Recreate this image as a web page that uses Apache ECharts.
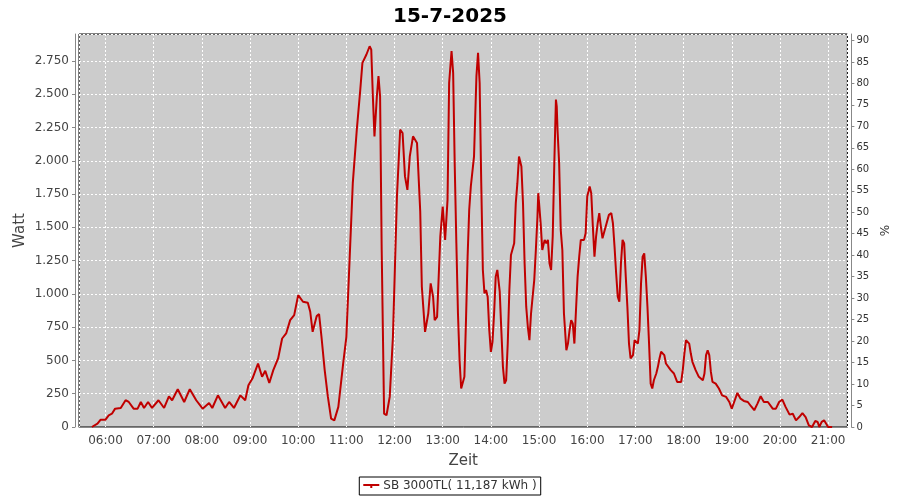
<!DOCTYPE html>
<html>
<head>
<meta charset="utf-8">
<script src="https://cdn.jsdelivr.net/npm/echarts@6/dist/echarts.min.js"></script>
<style>html,body{margin:0;padding:0;background:#fff}#c{width:900px;height:500px}</style>
</head>
<body>
<div id="c"></div>
<script>
var day = '2025-07-15';
var times = ['05:43','05:50','05:54','06:00','06:04','06:08','06:12','06:19','06:25','06:29','06:35','06:40','06:44','06:48','06:53','06:58','07:06','07:13','07:19','07:23','07:30','07:38','07:45','07:53','08:01','08:09','08:13','08:20','08:29','08:34','08:40','08:48','08:54','08:58','09:03','09:10','09:15','09:19','09:24','09:29','09:35','09:40','09:45','09:50','09:55','10:00','10:06','10:12','10:15','10:18','10:23','10:26','10:29','10:33','10:37','10:41','10:45','10:50','10:56','11:00','11:04','11:08','11:13','11:17','11:20','11:25','11:29','11:31','11:33','11:35','11:38','11:40','11:42','11:44','11:47','11:50','11:54','11:58','12:03','12:07','12:10','12:13','12:16','12:19','12:23','12:28','12:32','12:34','12:38','12:42','12:45','12:48','12:50','12:53','12:57','13:00','13:03','13:06','13:08','13:11','13:13','13:15','13:17','13:19','13:21','13:23','13:25','13:27','13:29','13:31','13:33','13:35','13:37','13:39','13:42','13:44','13:46','13:48','13:50','13:52','13:54','13:56','13:58','14:00','14:02','14:04','14:06','14:08','14:11','14:13','14:15','14:17','14:19','14:21','14:23','14:25','14:27','14:29','14:31','14:33','14:35','14:38','14:40','14:42','14:44','14:46','14:48','14:50','14:52','14:54','14:56','14:58','14:59','15:00','15:02','15:04','15:07','15:09','15:11','15:13','15:15','15:17','15:19','15:21','15:22','15:23','15:25','15:27','15:29','15:31','15:34','15:36','15:38','15:40','15:42','15:44','15:46','15:48','15:50','15:52','15:56','15:58','16:00','16:03','16:05','16:07','16:09','16:11','16:13','16:15','16:17','16:19','16:23','16:27','16:30','16:32','16:34','16:36','16:38','16:40','16:42','16:44','16:46','16:48','16:50','16:52','16:54','16:57','16:59','17:03','17:05','17:07','17:09','17:11','17:13','17:15','17:17','17:19','17:21','17:23','17:26','17:28','17:30','17:32','17:36','17:38','17:44','17:48','17:52','17:57','17:59','18:01','18:03','18:05','18:07','18:09','18:11','18:15','18:19','18:24','18:26','18:28','18:30','18:32','18:34','18:36','18:40','18:44','18:48','18:53','18:57','19:00','19:03','19:07','19:11','19:15','19:20','19:24','19:28','19:32','19:36','19:40','19:45','19:51','19:55','19:59','20:03','20:07','20:12','20:16','20:20','20:24','20:28','20:32','20:36','20:40','20:44','20:47','20:49','20:52','20:55','20:58','21:00','21:05'];
var watts = [0,25,55,55,88,100,138,143,201,188,138,138,188,143,188,143,201,143,231,201,284,188,284,201,138,181,143,238,143,188,143,238,201,314,364,477,377,422,331,427,515,665,703,803,841,991,941,934,866,715,833,848,678,427,226,63,50,151,477,678,1255,1832,2234,2510,2736,2799,2861,2836,2485,2184,2485,2636,2485,1330,100,88,226,678,1732,2234,2209,1883,1782,2033,2184,2134,1619,1054,715,853,1079,979,803,828,1431,1657,1406,1707,2585,2824,2661,1958,1380,853,502,289,281,377,803,1280,1632,1807,1820,2033,2636,2811,2585,1832,1180,1004,1029,979,728,565,640,853,1130,1180,1017,728,452,326,351,627,1029,1293,1305,1380,1682,1832,2033,1958,1682,1230,904,753,653,853,979,1104,1330,1581,1757,1682,1531,1330,1406,1380,1406,1230,1180,1431,1983,2460,2410,2234,1983,1481,1330,853,577,627,728,803,778,627,879,1130,1280,1406,1406,1456,1732,1807,1757,1506,1280,1431,1531,1607,1506,1418,1506,1594,1607,1531,1355,1155,979,941,1230,1406,1380,1130,904,627,515,540,653,627,728,1079,1280,1305,1130,904,627,326,289,351,402,452,515,565,540,477,427,402,339,339,427,552,653,665,627,552,490,427,377,351,402,540,577,540,414,339,326,289,238,226,188,138,188,256,213,196,188,156,126,176,231,188,188,138,138,188,206,151,93,100,50,75,105,75,13,0,45,38,0,38,50,20,0,0];
var wattTicks = [0,250,500,750,1000,1250,1500,1750,2000,2250,2500,2750];
var pctTicks = [0,5,10,15,20,25,30,35,40,45,50,55,60,65,70,75,80,85,90];
var seriesName = 'SB 3000TL( 11,187 kWh )';
var titleText = '15-7-2025';

var data = times.map(function(t, i){ return [day + ' ' + t, watts[i]]; });
var font = 'DejaVu Sans';
function fmtW(v){ return String(v).replace(/\B(?=(\d{3})+(?!\d))/g, '.'); }

var chart = echarts.init(document.getElementById('c'), null, {renderer:'canvas'});
chart.setOption({
  animation: false,
  backgroundColor: '#ffffff',
  title: {text: titleText, left: 'center', top: 2,
    textStyle: {fontFamily: font, fontSize: 20, fontWeight: 'bold', color: '#000'}},
  legend: {
    data: [seriesName], left: 'center', top: 477,
    borderColor: '#000', borderWidth: 1, padding: [3, 4], borderRadius: 0,
    itemWidth: 16, itemHeight: 6, itemGap: 5,
    icon: 'path://M0,2 L16,2 L16,4 L9,4 L9,6 L7,6 L7,4 L0,4 Z',
    textStyle: {fontFamily: font, fontSize: 12, color: '#333', padding: [0,0,0,-1]}
  },
  grid: {left: 79, right: 52, top: 34, bottom: 73, show: true,
    backgroundColor: '#cccccc', borderColor: '#000', borderWidth: 1},
  xAxis: {
    type: 'time', min: day + ' 05:27', max: day + ' 21:24',
    minInterval: 3600000, maxInterval: 3600000,
    offset: 4,
    name: 'Zeit', nameLocation: 'middle', nameGap: 23, nameMoveOverlap: false,
    nameTextStyle: {fontFamily: font, fontSize: 15, color: '#444'},
    axisLine: {show: true, lineStyle: {color: '#888'}},
    axisTick: {show: false},
    axisLabel: {fontFamily: font, fontSize: 12, color: '#444', margin: 4,
      showMinLabel: false, showMaxLabel: false,
      formatter: function(v){ var d = new Date(v); var h = d.getHours(), m = d.getMinutes();
        return (h<10?'0':'')+h+':'+(m<10?'0':'')+m; }},
    splitLine: {show: true, lineStyle: {color: '#ffffff', type: [2,2], width: 1}}
  },
  yAxis: [{
    type: 'value', min: 0, max: 2953, interval: 250, offset: 4,
    name: 'Watt', nameLocation: 'middle', nameGap: 47, nameMoveOverlap: false,
    nameTextStyle: {fontFamily: font, fontSize: 15, color: '#444'},
    axisLine: {show: true, lineStyle: {color: '#888'}},
    axisTick: {show: true, length: 3, lineStyle: {color: '#888'}},
    axisLabel: {fontFamily: font, fontSize: 12, color: '#444', margin: 6, showMaxLabel: false,
      formatter: fmtW},
    splitLine: {show: true, lineStyle: {color: '#ffffff', type: [2,2], width: 1}}
  }, {
    type: 'value', min: 0, max: 91.5, interval: 5, offset: 4, position: 'right',
    name: '%', nameLocation: 'middle', nameGap: 24,
    nameTextStyle: {fontFamily: font, fontSize: 12, color: '#333'},
    axisLine: {show: true, lineStyle: {color: '#888'}},
    axisTick: {show: true, length: 3, lineStyle: {color: '#888'}},
    axisLabel: {fontFamily: font, fontSize: 10, color: '#333', margin: 5, showMaxLabel: false},
    splitLine: {show: false}
  }],
  series: [{
    name: seriesName, type: 'line', data: data, yAxisIndex: 0,
    showSymbol: false, symbol: 'none',
    lineStyle: {color: '#c00000', width: 2}, itemStyle: {color: '#c00000'}
  }]
});
</script>
</body>
</html>
